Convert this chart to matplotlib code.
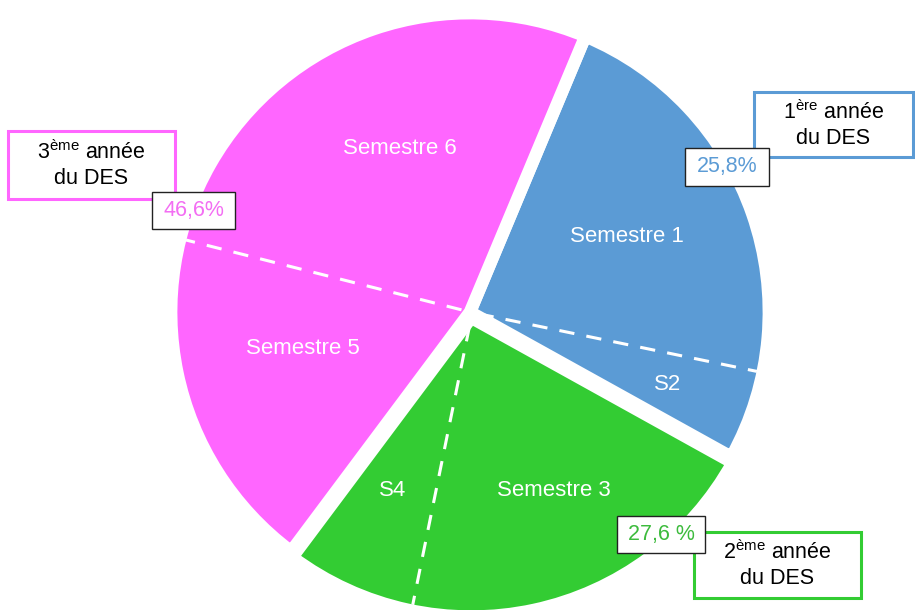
import numpy as np
import matplotlib.pyplot as plt
from matplotlib.patches import Rectangle

plt.rcParams['font.family'] = ['Liberation Sans', 'DejaVu Sans']
plt.rcParams['mathtext.fontset'] = 'custom'
plt.rcParams['mathtext.rm'] = 'Liberation Sans'

# Données : part de chaque semestre (en %)
semestres = ["Semestre 1", "S2", "Semestre 3", "S4", "Semestre 5", "Semestre 6"]
parts = [21.9, 4.8, 20.1, 7.0, 18.7, 27.3]
annees = ["1$^{\\mathrm{ère}}$ année\ndu DES",
          "2$^{\\mathrm{ème}}$ année\ndu DES",
          "3$^{\\mathrm{ème}}$ année\ndu DES"]
pourcentages = ["25,8%", "27,6 %", "46,6%"]
couleurs = ["#5B9BD5", "#33CC33", "#FF66FF"]
couleurs_txt = ["#5B9BD5", "#3DBB3D", "#F36EF3"]

W, H = 915, 610
fig = plt.figure(figsize=(W / 100, H / 100), dpi=100)
ax = fig.add_axes([0, 0, 1, 1])
cx, cy, R = 470, 312, 293  # centre et rayon en pixels

# Regroupement par année (2 semestres par année)
valeurs = np.array(parts)
par_annee = valeurs.reshape(3, 2).sum(axis=1)
explode = [0, 0.02, 0]
start = 67.3
ax.pie(par_annee, colors=couleurs, startangle=start, counterclock=False,
       radius=1.02, explode=explode,
       wedgeprops=dict(edgecolor='white', linewidth=9))

# Lignes pointillées entre les semestres d'une même année
cum = np.cumsum(valeurs) / valeurs.sum()
mid_annee = start - 360 * (np.cumsum(par_annee) - par_annee / 2) / par_annee.sum()
for k in range(3):
    ang = np.deg2rad(start - 360 * cum[2 * k])
    a_mid = np.deg2rad(mid_annee[k])
    ox, oy = explode[k] * np.cos(a_mid), explode[k] * np.sin(a_mid)
    r0 = 0.03
    ax.plot([ox + r0 * np.cos(ang), ox + np.cos(ang)],
            [oy + r0 * np.sin(ang), oy + np.sin(ang)],
            color='white', lw=2.2, ls=(0, (5, 4)), solid_capstyle='butt')

# Étiquettes des semestres (positions en pixels)
pos_sem = [(627, 236), (668, 384), (554, 490), (393, 490), (303, 348), (400, 148)]
for nom, (px, py) in zip(semestres, pos_sem):
    ax.text((px - cx) / R, (cy - py) / R, nom, color='white', fontsize=16,
            ha='center', va='center')

ax.set_aspect('equal')
ax.set_xlim(-cx / R, (W - cx) / R)
ax.set_ylim(-(H - cy) / R, cy / R)
ax.axis('off')


def fx(px):
    return px / W


def fy(py):
    return 1 - py / H


def boite(x0, y0, x1, y1, couleur, lw, z):
    fig.add_artist(Rectangle((fx(x0), fy(y1)), fx(x1) - fx(x0), fy(y0) - fy(y1),
                             transform=fig.transFigure, facecolor='white',
                             edgecolor=couleur, linewidth=lw, zorder=z))


# Boîtes des années
boites_annee = [(754, 92, 913, 157), (694, 532, 861, 598), (8, 131, 175, 199)]
for txt, c, (x0, y0, x1, y1) in zip(annees, couleurs, boites_annee):
    boite(x0, y0, x1, y1, c, 2.2, 5)
    fig.text(fx((x0 + x1) / 2), fy((y0 + y1) / 2), txt, ha='center', va='center',
             fontsize=15.5, color='black', linespacing=1.25, zorder=6)

# Boîtes des pourcentages
boites_pct = [(685, 148, 769, 186), (617, 516, 705, 553), (152, 192, 235, 229)]
for txt, c, (x0, y0, x1, y1) in zip(pourcentages, couleurs_txt, boites_pct):
    boite(x0, y0, x1, y1, '#222222', 1.0, 7)
    fig.text(fx((x0 + x1) / 2), fy((y0 + y1) / 2), txt, ha='center', va='center',
             fontsize=15.5, color=c, zorder=8)

fig.savefig("out.png", dpi=100)
